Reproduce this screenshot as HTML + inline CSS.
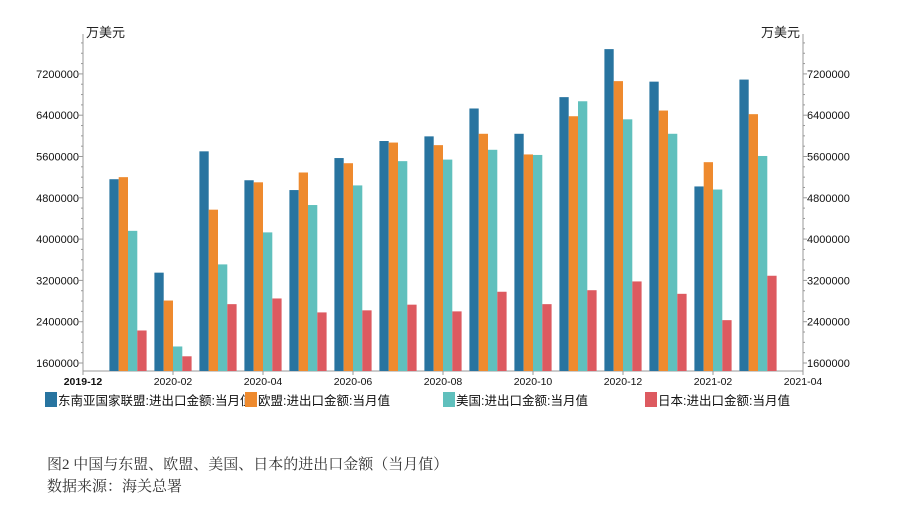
<!DOCTYPE html>
<html><head><meta charset="utf-8"><style>
body{margin:0;background:#fff;width:897px;height:510px;overflow:hidden;font-family:"Liberation Sans","Noto Sans CJK SC",sans-serif}
.cap{position:absolute;left:47px;font-family:"Liberation Serif","Noto Serif CJK SC",serif;font-size:15px;color:#333}
</style></head><body>
<svg id="chart" width="897" height="420" style="position:absolute;left:0;top:0"></svg>
<div class="cap" style="top:453px">图2 中国与东盟、欧盟、美国、日本的进出口金额（当月值）</div>
<div class="cap" style="top:475px">数据来源：海关总署</div>
<script>
const months=["2020-01","2020-02","2020-03","2020-04","2020-05","2020-06","2020-07","2020-08","2020-09","2020-10","2020-11","2020-12","2021-01","2021-02","2021-03"];
const asean=[5160000,3350000,5700000,5140000,4950000,5570000,5900000,5990000,6530000,6040000,6750000,7680000,7050000,5020000,7090000];
const eu=[5200000,2810000,4570000,5100000,5290000,5470000,5870000,5820000,6040000,5640000,6380000,7060000,6490000,5490000,6420000];
const us=[4160000,1920000,3510000,4130000,4660000,5040000,5510000,5540000,5730000,5630000,6670000,6320000,6040000,4960000,5610000];
const japan=[2230000,1730000,2740000,2850000,2580000,2620000,2730000,2600000,2980000,2740000,3010000,3180000,2940000,2430000,3290000];
const yTicks=[1600000,2400000,3200000,4000000,4800000,5600000,6400000,7200000];
const xTickLabels=["2019-12","2020-02","2020-04","2020-06","2020-08","2020-10","2020-12","2021-02","2021-04"];
const series=[{name:"东南亚国家联盟:进出口金额:当月值",v:asean,c:"#2874a0"},{name:"欧盟:进出口金额:当月值",v:eu,c:"#ee8a2e"},{name:"美国:进出口金额:当月值",v:us,c:"#60c0bd"},{name:"日本:进出口金额:当月值",v:japan,c:"#dd5a60"}];
const NS="http://www.w3.org/2000/svg",svg=document.getElementById('chart');
const L=83,R=803,B=371,T=34,yMin=1445000;
const y=v=>363-(v-1600000)/800000*41.3;
const x=i=>L+(i+1)*45; // month index from 2019-12 = 0
function mk(t,a,p){const e=document.createElementNS(NS,t);for(const k in a)e.setAttribute(k,a[k]);(p||svg).appendChild(e);return e;}
// axes
let e=mk('line',{x1:L,y1:T,x2:L,y2:B,stroke:'#999'});
e=mk('line',{x1:R,y1:T,x2:R,y2:B,stroke:'#999'});
e=mk('line',{x1:L,y1:B,x2:R,y2:B,stroke:'#999'});
for(let v=1600000-200000;v<=7800000;v+=200000){const yy=y(v);if(yy<T||yy>B)continue;const big=(v%800000===0);
mk('line',{x1:L-(big?4:2),x2:L,y1:yy,y2:yy,stroke:'#999'});mk('line',{x1:R,x2:R+(big?4:2),y1:yy,y2:yy,stroke:'#999'});}
yTicks.forEach(v=>{let t=mk('text',{x:L-4,y:y(v)+4,'text-anchor':'end','font-size':11,fill:'#111'});t.textContent=v;

t=mk('text',{x:R+4,y:y(v)+4,'font-size':11,fill:'#111'});t.textContent=v;
});
xTickLabels.forEach((s,i)=>{const xx=L+i*90;mk('line',{x1:xx,x2:xx,y1:B,y2:B+4,stroke:'#999'});
const t=mk('text',{x:xx,y:B+14,'text-anchor':'middle','font-size':10.5,fill:'#111','font-weight':i==0?'bold':'normal'});t.textContent=s;
});
let t=mk('text',{x:86,y:37,'font-size':13,fill:'#222'});t.textContent='万美元';
t=mk('text',{x:800,y:37,'font-size':13,fill:'#222','text-anchor':'end'});t.textContent='万美元';
// bars
const bw=9.3;
months.forEach((m,i)=>{series.forEach((s,k)=>{const x0=x(i)-2*bw+k*bw;const yt=y(s.v[i]);
const r=mk('rect',{x:x0,y:yt,width:bw,height:B-yt,fill:s.c});
});});
// legend
const lx=[45,245,443,645];
series.forEach((s,k)=>{const g=mk('g',{});
mk('rect',{x:lx[k],y:392,width:12,height:15,fill:s.c},g);
const tt=mk('text',{x:lx[k]+13,y:405,'font-size':12.5,fill:'#111'},g);tt.textContent=s.name;});
</script>
</body></html>
